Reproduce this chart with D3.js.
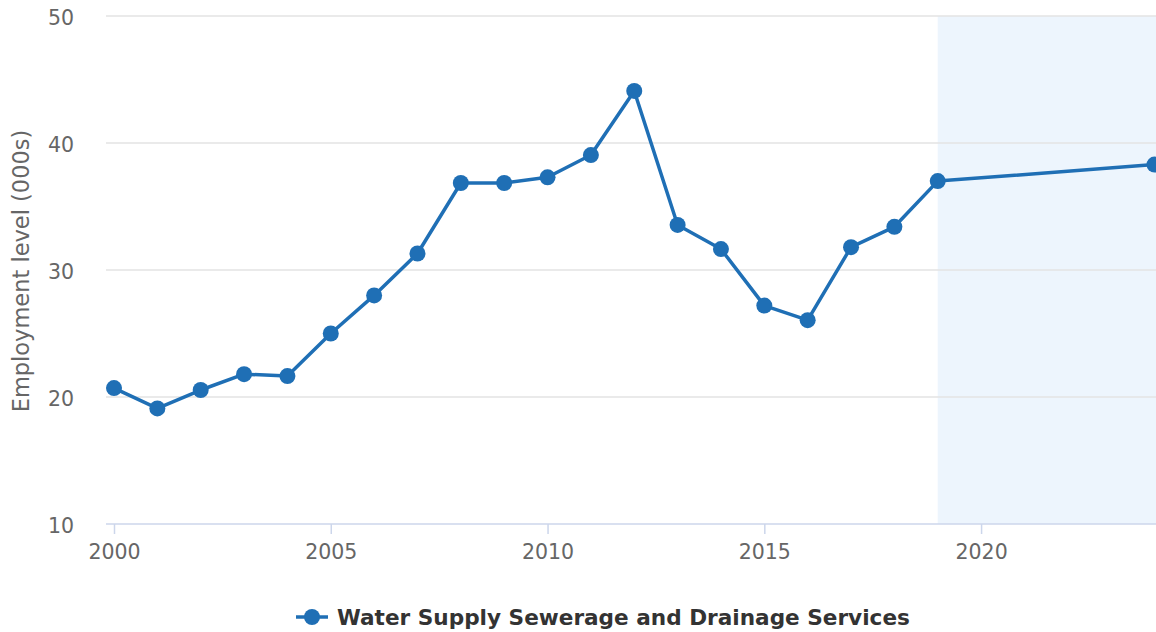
<!DOCTYPE html>
<html>
<head>
<meta charset="utf-8">
<script src="https://cdn.jsdelivr.net/npm/d3@7"></script>
<style>
  body { margin: 0; background: #fff; }
  svg { display: block; font-family: "DejaVu Sans", sans-serif; }
</style>
</head>
<body>
<div id="wrapper"></div>
<script>
// data
const years = [2000, 2001, 2002, 2003, 2004, 2005, 2006, 2007, 2008, 2009, 2010,
  2011, 2012, 2013, 2014, 2015, 2016, 2017, 2018, 2019, 2024];
const employment = [20.7, 19.1, 20.55, 21.8, 21.65, 25.0, 28.0, 31.3, 36.85, 36.85, 37.3,
  39.05, 44.1, 33.55, 31.65, 27.2, 26.05, 31.8, 33.4, 37.0, 38.3];
const yTicks = [10, 20, 30, 40, 50];
const xTicks = [2000, 2005, 2010, 2015, 2020];
const forecastStart = 2019;
const seriesName = "Water Supply Sewerage and Drainage Services";
const yTitle = "Employment level (000s)";

function draw() {
  const width = 1156, height = 632;
  const m = { top: 16, right: 2, bottom: 108, left: 114 };
  const colour = "#1f6fb5";

  const svg = d3.select("#wrapper")
    .append("svg")
      .attr("width", width)
      .attr("height", height);

  const x = d3.scaleLinear().domain([2000, 2024]).range([m.left, 1154.5]);
  const y = d3.scaleLinear().domain([10, 50]).range([height - m.bottom, m.top]);

  // forecast band
  svg.append("rect")
    .attr("x", x(forecastStart))
    .attr("y", y(50))
    .attr("width", width - x(forecastStart))
    .attr("height", y(10) - y(50))
    .attr("fill", "#edf5fd");

  // grid lines
  svg.append("g")
    .selectAll("line")
    .data(yTicks.filter(d => d !== 10))
    .enter()
    .append("line")
    .attr("x1", m.left - 8)
    .attr("x2", width)
    .attr("y1", d => y(d))
    .attr("y2", d => y(d))
    .attr("stroke", "#e3e3e3")
    .attr("stroke-width", 1.5);

  // y axis labels
  const yAxis = svg.append("g")
    .attr("transform", "translate(" + (m.left - 8) + ",0)")
    .call(d3.axisLeft(y).tickValues(yTicks).tickSize(0).tickPadding(32));
  yAxis.select(".domain").remove();
  yAxis.selectAll("text")
    .attr("font-size", 20.5)
    .attr("font-family", "DejaVu Sans, sans-serif")
    .attr("fill", "#666")
    .attr("dy", "0.42em");

  // x axis
  const xAxis = svg.append("g")
    .attr("transform", "translate(0," + y(10) + ")")
    .call(d3.axisBottom(x).tickValues(xTicks).tickFormat(d3.format("d")).tickSize(10).tickPadding(10));
  xAxis.select(".domain")
    .attr("d", "M" + (m.left - 8) + ",0H" + width)
    .attr("stroke", "#ccd6eb")
    .attr("stroke-width", 1.5);
  xAxis.selectAll(".tick line").attr("stroke", "#ccd6eb").attr("stroke-width", 1.5);
  xAxis.selectAll("text")
    .attr("font-size", 20.5)
    .attr("font-family", "DejaVu Sans, sans-serif")
    .attr("fill", "#666");

  // y title
  svg.append("text")
    .attr("transform", "translate(29," + ((y(50) + y(10)) / 2 + 1) + ") rotate(-90)")
    .attr("text-anchor", "middle")
    .attr("font-size", 22.5)
    .attr("fill", "#666")
    .text(yTitle);

  const points = years.map((d, i) => [x(d), y(employment[i])]);

  svg.append("path")
    .attr("d", d3.line()(points))
    .attr("stroke", colour)
    .attr("stroke-width", 3.5)
    .attr("stroke-linejoin", "round")
    .attr("fill", "none");

  svg.append("g")
    .selectAll("circle")
    .data(points)
    .enter()
    .append("circle")
    .attr("cx", d => d[0])
    .attr("cy", d => d[1])
    .attr("r", 8)
    .attr("fill", colour);

  // legend
  const lg = svg.append("g").attr("transform", "translate(296,617)");
  lg.append("line")
    .attr("x1", 0).attr("x2", 32)
    .attr("stroke", colour).attr("stroke-width", 3.5);
  lg.append("circle")
    .attr("cx", 16).attr("r", 8).attr("fill", colour);
  lg.append("text")
    .attr("x", 41)
    .attr("dy", "0.35em")
    .attr("font-size", 21.6)
    .attr("font-weight", "bold")
    .attr("fill", "#333")
    .text(seriesName);
}
draw();
</script>
</body>
</html>
